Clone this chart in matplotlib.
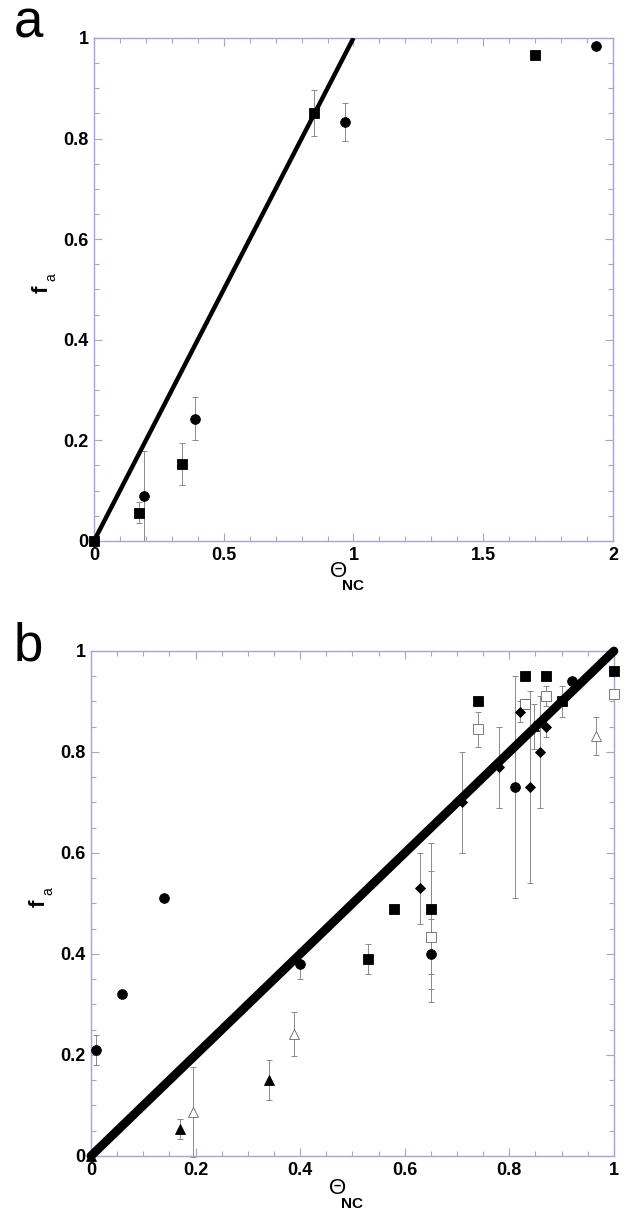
import matplotlib
matplotlib.use("Agg")
import matplotlib.pyplot as plt
from matplotlib.ticker import MultipleLocator, FixedLocator, FixedFormatter

plt.rcParams['font.family'] = ['Liberation Sans', 'DejaVu Sans']
plt.rcParams['mathtext.fontset'] = 'custom'
plt.rcParams['mathtext.rm'] = 'Liberation Sans'
plt.rcParams['mathtext.bf'] = 'Liberation Sans:bold'
plt.rcParams['mathtext.it'] = 'Liberation Sans:italic'

# ---------------- Panel a data ----------------
a_sq_x = [0.0, 0.173, 0.34, 0.848, 1.70]
a_sq_y = [0.0, 0.056, 0.153, 0.851, 0.966]
a_sq_err = [0.0, 0.021, 0.042, 0.045, 0.0]
a_ci_x = [0.194, 0.388, 0.967, 1.934]
a_ci_y = [0.089, 0.243, 0.833, 0.984]
a_ci_err = [0.09, 0.043, 0.037, 0.0]
a_line_x = [0, 1]
a_line_y = [0, 1]
a_xticks = [0, 0.5, 1, 1.5, 2]
a_xticklabels = ['0', '0.5', '1', '1.5', '2']

# ---------------- Panel b data ----------------
b_ci_x = [0.01, 0.06, 0.14, 0.40, 0.65, 0.81, 0.92]
b_ci_y = [0.21, 0.32, 0.51, 0.38, 0.40, 0.73, 0.94]
b_ci_err = [0.03, 0.0, 0.005, 0.03, 0.07, 0.22, 0.0]
b_sq_x = [0.53, 0.58, 0.65, 0.74, 0.83, 0.87, 0.90, 1.0]
b_sq_y = [0.39, 0.49, 0.49, 0.90, 0.95, 0.95, 0.90, 0.96]
b_sq_err = [0.03, 0.0, 0.13, 0.0, 0.0, 0.0, 0.03, 0.0]
b_osq_x = [0.65, 0.74, 0.83, 0.87, 1.0]
b_osq_y = [0.434, 0.845, 0.895, 0.911, 0.915]
b_osq_err = [0.13, 0.035, 0.01, 0.02, 0.0]
b_dm_x = [0.629, 0.709, 0.78, 0.82, 0.84, 0.859, 0.87]
b_dm_y = [0.53, 0.70, 0.77, 0.88, 0.73, 0.80, 0.85]
b_dm_err = [0.07, 0.10, 0.08, 0.02, 0.19, 0.11, 0.02]
b_tri_x = [0.0, 0.17, 0.34, 0.848]
b_tri_y = [0.0, 0.053, 0.15, 0.851]
b_tri_err = [0.0, 0.02, 0.04, 0.045]
b_otri_x = [0.195, 0.388, 0.966]
b_otri_y = [0.087, 0.242, 0.832]
b_otri_err = [0.09, 0.044, 0.037]
b_line_x = [0, 1]
b_line_y = [0, 1]
b_xticks = [0, 0.2, 0.4, 0.6, 0.8, 1.0]
b_xticklabels = ['0', '0.2', '0.4', '0.6', '0.8', '1']

yticks = [0, 0.2, 0.4, 0.6, 0.8, 1.0]
yticklabels = ['0', '0.2', '0.4', '0.6', '0.8', '1']

SPINE = '#a3a3e3'
ERRC = '#8a8a8a'

fig = plt.figure(figsize=(6.42, 12.2), dpi=100)
axa = fig.add_axes([0.1464, 0.5566, 0.8084, 0.4123])
axb = fig.add_axes([0.1417, 0.0525, 0.8146, 0.4139])


def style(ax, xticks, xlabels, xminor, xmax):
    ax.set_xlim(0, xmax)
    ax.set_ylim(0, 1)
    for s in ax.spines.values():
        s.set_color(SPINE)
        s.set_linewidth(1.0)
    ax.xaxis.set_major_locator(FixedLocator(xticks))
    ax.xaxis.set_major_formatter(FixedFormatter(xlabels))
    ax.xaxis.set_minor_locator(MultipleLocator(xminor))
    ax.yaxis.set_major_locator(FixedLocator(yticks))
    ax.yaxis.set_major_formatter(FixedFormatter(yticklabels))
    ax.yaxis.set_minor_locator(MultipleLocator(0.05))
    ax.tick_params(which='both', direction='in', top=True, right=True,
                   color=SPINE, width=0.8, labelcolor='black')
    ax.tick_params(which='major', length=6, pad=4)
    ax.tick_params(which='minor', length=3.5)
    for lab in ax.get_xticklabels() + ax.get_yticklabels():
        lab.set_fontweight('bold')
        lab.set_fontsize(13)


def series(ax, x, y, err, marker, ms, filled=True):
    ax.errorbar(x, y, yerr=err, fmt='none', ecolor=ERRC, elinewidth=0.7,
                capsize=2.5, capthick=0.7, zorder=2, clip_on=False)
    ax.plot(x, y, linestyle='none', marker=marker, markersize=ms,
            markerfacecolor='black' if filled else 'white',
            markeredgecolor='black' if filled else '#666666',
            markeredgewidth=0.6, zorder=3, clip_on=False)


def labels(ax, ypos):
    ax.text(-0.1, 0.5, 'f', transform=ax.transAxes, rotation=90,
            ha='center', va='center', fontsize=16, fontweight='bold')
    ax.text(-0.082, 0.525, 'a', transform=ax.transAxes, rotation=90,
            ha='center', va='center', fontsize=10)
    ax.text(0.47, ypos, r'$\Theta$', transform=ax.transAxes,
            ha='center', va='center', fontsize=16)
    ax.text(0.5, ypos - 0.03, 'NC', transform=ax.transAxes,
            ha='center', va='center', fontsize=11, fontweight='bold')


# Panel a
style(axa, a_xticks, a_xticklabels, 0.1, 2)
series(axa, a_sq_x, a_sq_y, a_sq_err, 's', 6.5)
series(axa, a_ci_x, a_ci_y, a_ci_err, 'o', 7)
axa.plot(a_line_x, a_line_y, color='black', linewidth=3.2, zorder=4,
         solid_capstyle='butt')
labels(axa, -0.06)
fig.text(0.022, 0.969, 'a', fontsize=38, ha='left', va='baseline')

# Panel b
style(axb, b_xticks, b_xticklabels, 0.05, 1)
series(axb, b_ci_x, b_ci_y, b_ci_err, 'o', 7)
series(axb, b_sq_x, b_sq_y, b_sq_err, 's', 6.5)
series(axb, b_osq_x, b_osq_y, b_osq_err, 's', 6.5, filled=False)
series(axb, b_dm_x, b_dm_y, b_dm_err, 'D', 5.2)
series(axb, b_tri_x, b_tri_y, b_tri_err, '^', 6.5)
series(axb, b_otri_x, b_otri_y, b_otri_err, '^', 6.5, filled=False)
axb.plot(b_line_x, b_line_y, color='black', linewidth=6.3, zorder=4,
         solid_capstyle='round', clip_on=False)
labels(axb, -0.065)
fig.text(0.022, 0.459, 'b', fontsize=38, ha='left', va='baseline')

fig.savefig('out.png', dpi=100)
